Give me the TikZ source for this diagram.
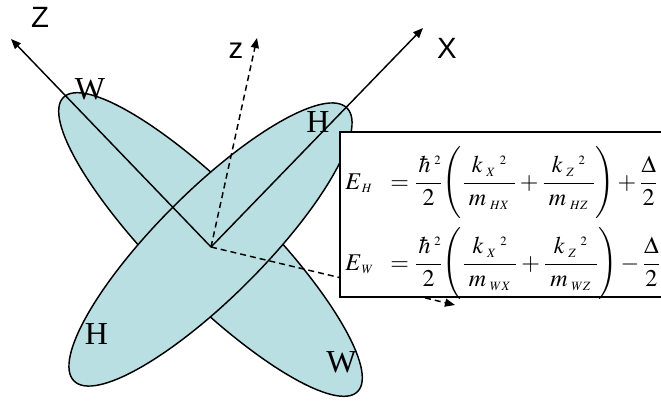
\documentclass[tikz,border=0pt]{standalone}
\usepackage{amsmath}
\usepackage{mathptmx}
\usepackage[no-math]{fontspec}
\setmainfont{Liberation Serif}
\newfontfamily\arialfont{Liberation Sans}
\usetikzlibrary{arrows.meta,calc}
\definecolor{planefill}{HTML}{B9DFE3}
\DeclareMathSizes{18}{18}{13}{9.5}
\newcommand{\sss}[1]{{\scriptscriptstyle #1}}

\begin{document}
\begin{tikzpicture}[x=0.75pt,y=0.75pt,
    axis/.style={-{Triangle[length=7.5pt,width=6pt]},line width=1.1pt},
    daxis/.style={axis,dash pattern=on 4.5pt off 3pt},
    plane/.style={draw,fill=planefill,line width=1.1pt},
    lbl/.style={font=\fontsize{24}{24}\selectfont,inner sep=0pt},
    axlbl/.style={font=\arialfont\fontsize{22}{22}\selectfont,inner sep=0pt},
    eqn/.style={font=\fontsize{18}{22}\selectfont,inner sep=0pt,anchor=base west}]
  \useasboundingbox (0,0) rectangle (661,405);
  \clip (0,0) rectangle (661,405);
  \coordinate (o) at (211,158);
  \coordinate (c) at (210.5,160.5);
  \coordinate (Zend) at (11,366);
  \coordinate (Xend) at (423,377);
  \coordinate (zend) at (257,367);
  \coordinate (kend) at (455,100);
  \draw[plane,shift={(c)},rotate=135] (0,0) ellipse [x radius=208,y radius=53];
  \draw[plane,shift={(c)},rotate=45] (0,0) ellipse [x radius=193,y radius=53];
  \draw[axis] (o) -- (Zend);
  \draw[axis] (o) -- (Xend);
  \draw[daxis] (o) -- (zend);
  \draw[daxis] (o) -- (kend);
  \draw[fill=white,line width=1.5pt] (340,273.3) rectangle (675,108.5);
  \node[eqn] (eh) at (345,216) {$E_{\,\sss{H}}$};
  \node[eqn] (eqh) at (390,216) {$=\dfrac{\,\hbar{}^{\;\sss{2}}}{2}\Biggl(\dfrac{\;k_{\;\sss{X}}{}^{\;\sss{2}}\;}{\;m_{\;\sss{HX}}\;}+\dfrac{\;k_{\;\sss{Z}}{}^{\;\sss{2}}\;}{\;m_{\;\sss{HZ}}\;}\Biggr)+\dfrac{\Delta}{2}$};
  \node[eqn] (ew) at (345,135) {$E_{\,\sss{W}}$};
  \node[eqn] (eqw) at (390,135) {$=\dfrac{\,\hbar{}^{\;\sss{2}}}{2}\Biggl(\dfrac{\;k_{\;\sss{X}}{}^{\;\sss{2}}\;}{\;m_{\;\sss{WX}}\;}+\dfrac{\;k_{\;\sss{Z}}{}^{\;\sss{2}}\;}{\;m_{\;\sss{WZ}}\;}\Biggr)-\dfrac{\Delta}{2}$};
  \node[axlbl] (lZ) at (40,388) {Z};
  \node[axlbl] (lX) at (447,357) {X};
  \node[axlbl] (lz) at (236,354.5) {z};
  \node[lbl] (w1) at (90,316) {W};
  \node[lbl] (h1) at (318,282.5) {H};
  \node[lbl] (h2) at (96.5,71) {H};
  \node[lbl] (w2) at (341.5,42.5) {W};
\end{tikzpicture}
\end{document}
